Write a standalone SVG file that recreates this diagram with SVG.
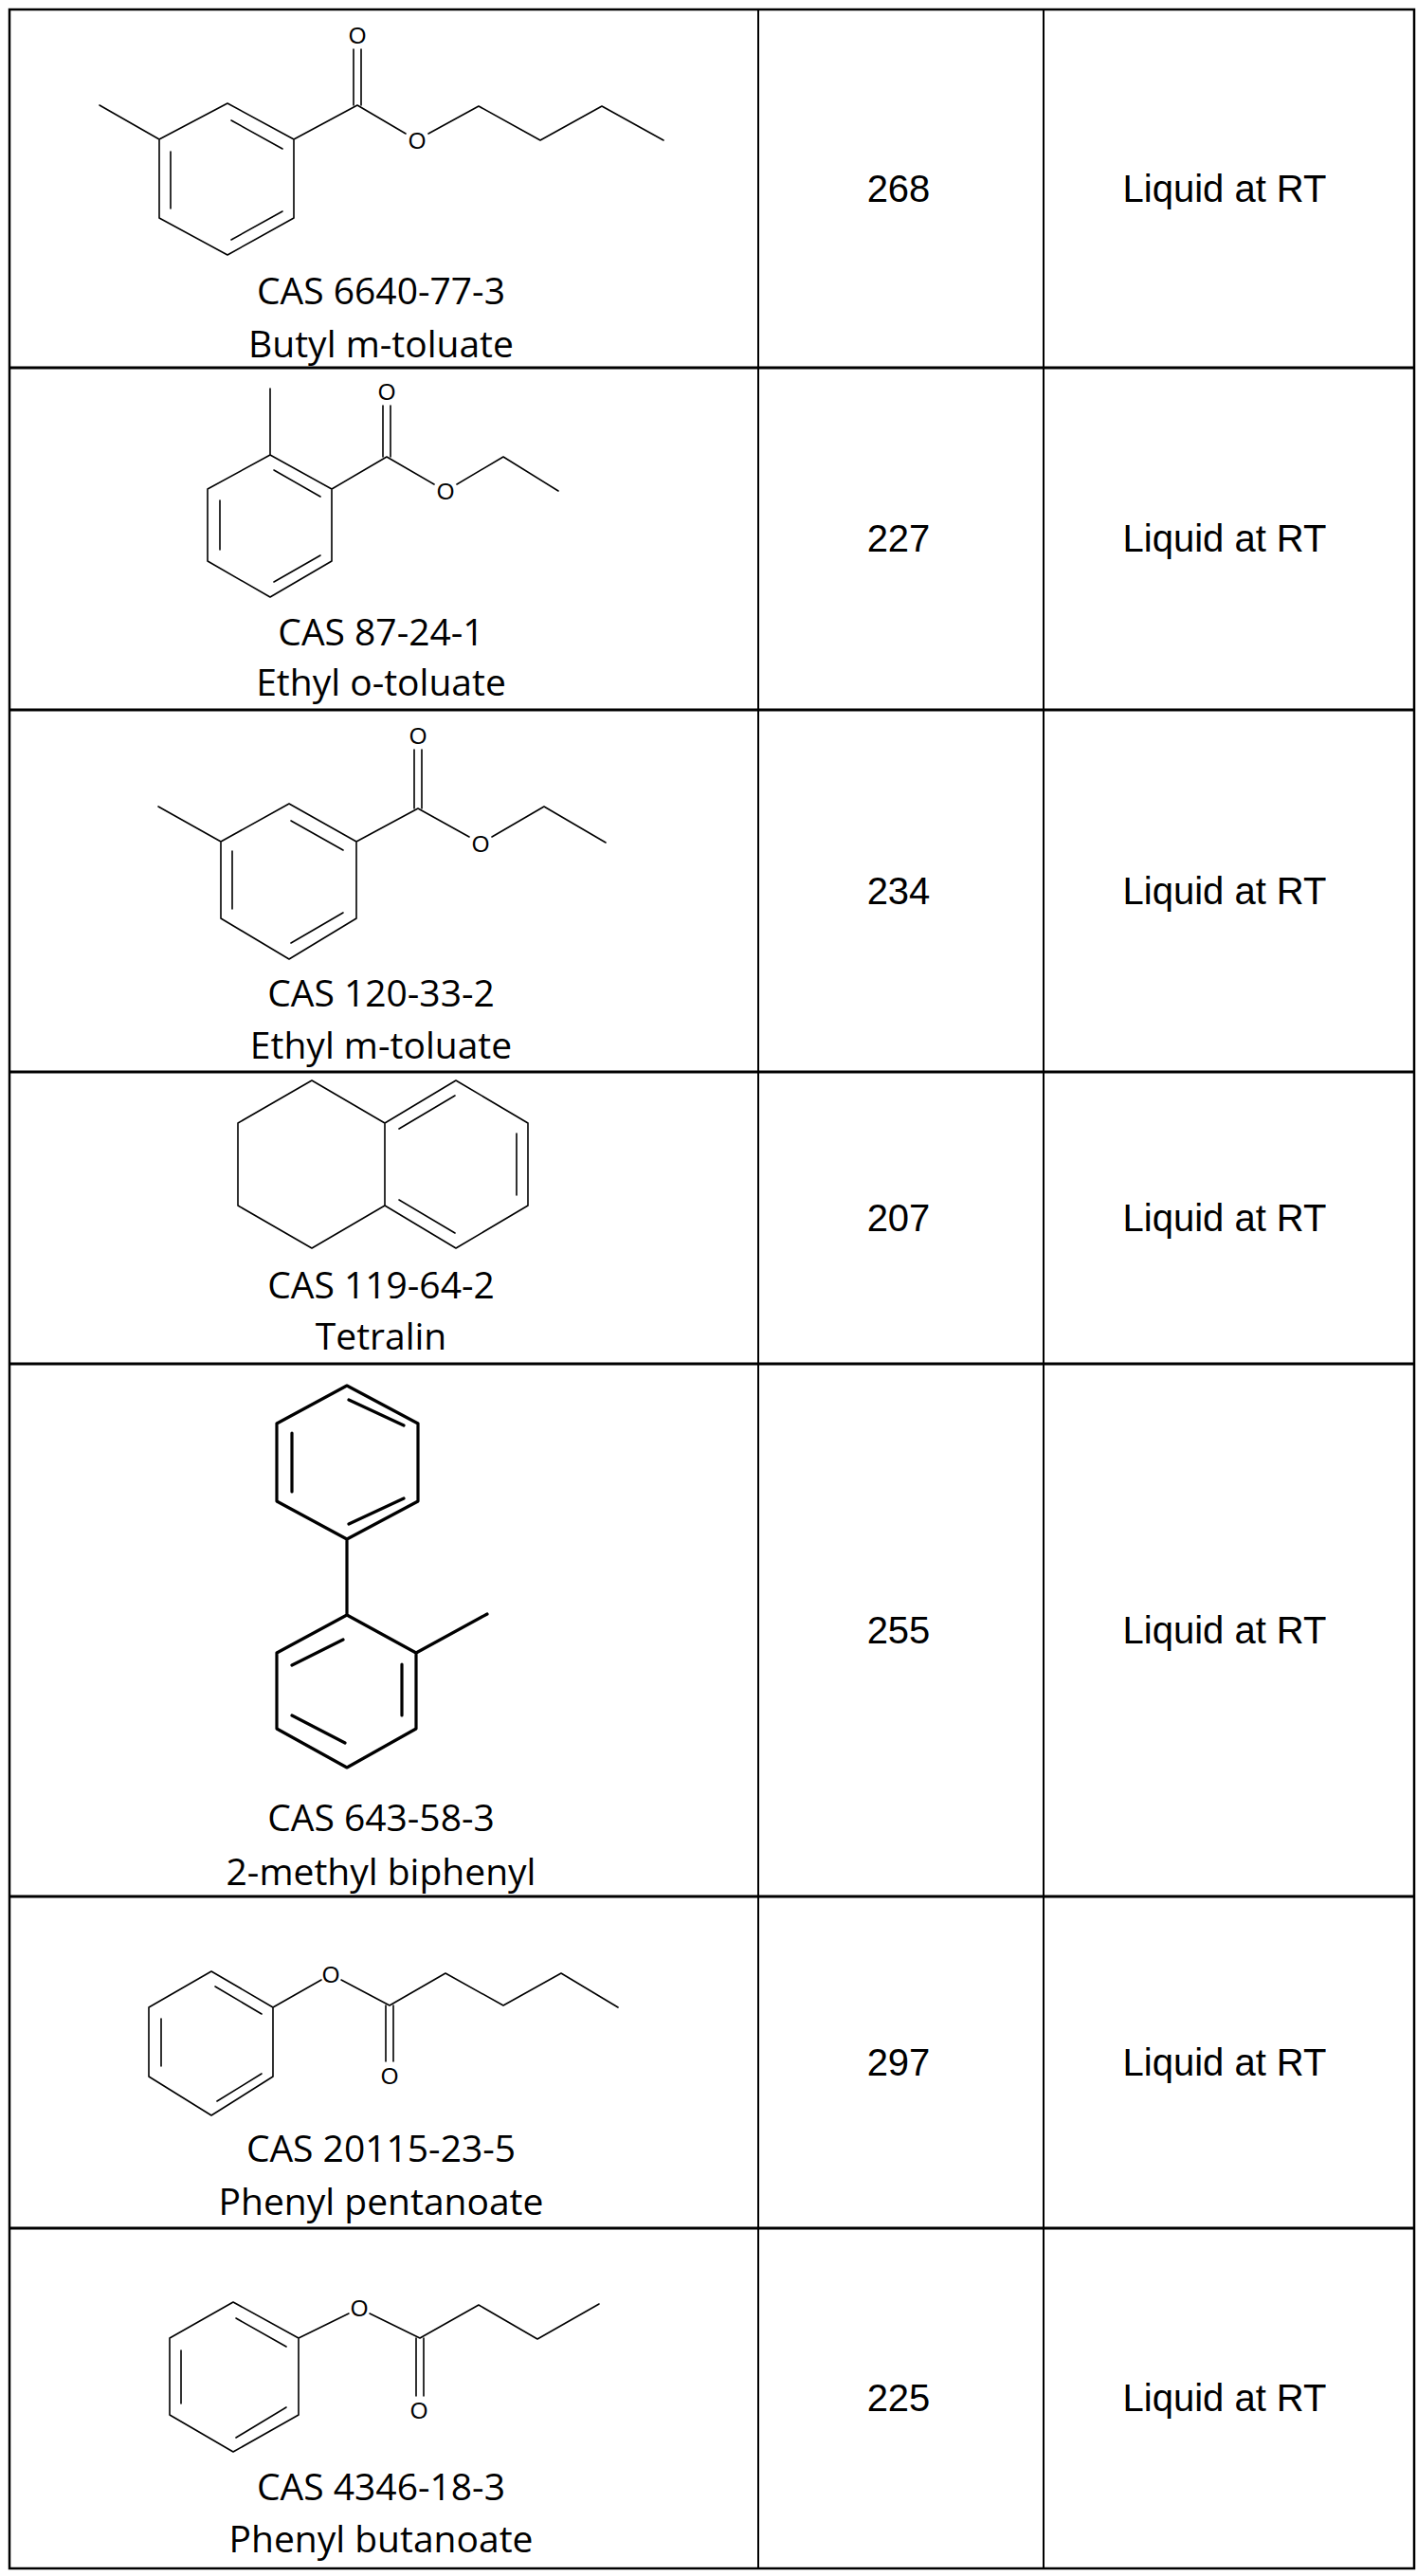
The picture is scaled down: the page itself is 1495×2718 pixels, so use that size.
<svg xmlns="http://www.w3.org/2000/svg" width="1495" height="2718" viewBox="0 0 1495 2718">
<style>
.grid{stroke:#000;fill:none}
.b{stroke:#000;stroke-width:1.6;fill:none;stroke-linecap:round;stroke-linejoin:round}
.bb{stroke:#000;stroke-width:3.2;fill:none;stroke-linecap:round;stroke-linejoin:round}
.cap{font-family:"Open Sans","Noto Sans",sans-serif;font-size:39px;text-anchor:middle;fill:#000}
.num{font-family:"Liberation Sans",Arial,sans-serif;font-size:40px;text-anchor:middle;fill:#000}
.at{font-family:"Liberation Sans",Arial,sans-serif;font-size:24px;text-anchor:middle;fill:#000}
</style>
<rect width="1495" height="2718" fill="#fff"/>
<g id="table" class="grid">
<rect x="10" y="10" width="1482" height="2700" stroke-width="2.5"/>
<line x1="800" y1="10" x2="800" y2="2710" stroke-width="2"/>
<line x1="1101" y1="10" x2="1101" y2="2710" stroke-width="2"/>
<line x1="10" y1="388" x2="1492" y2="388" stroke-width="3"/>
<line x1="10" y1="749" x2="1492" y2="749" stroke-width="3"/>
<line x1="10" y1="1131" x2="1492" y2="1131" stroke-width="3"/>
<line x1="10" y1="1439" x2="1492" y2="1439" stroke-width="3"/>
<line x1="10" y1="2001" x2="1492" y2="2001" stroke-width="3"/>
<line x1="10" y1="2351" x2="1492" y2="2351" stroke-width="3"/>
</g>

<g id="row1">
<path class="b" d="M168,147 L240,109 L310,147 L310,230 L240,269 L168,230 Z M105,111 L168,147 M310,147 L377,111 L428,141 M452,141 L505,112 L570,148 L635,112 L700,148"/>
<path class="b" d="M244,127 L298,157 M180,160 L180,220 M244,253 L298,223"/>
<path class="b" d="M373,111 L373,52 M381,111 L381,52"/>
<text class="at" x="377" y="46">O</text>
<text class="at" x="440" y="157">O</text>
<text class="cap" x="402" y="321">CAS 6640-77-3</text>
<text class="cap" x="402" y="377">Butyl m-toluate</text>
<text class="num" x="948" y="213">268</text>
<text class="num" x="1292" y="213">Liquid at RT</text>
</g>

<g id="row2">
<path class="b" d="M285,480 L350,516 L350,592 L285,630 L219,592 L219,516 Z M285,410 L285,480 M350,516 L408,482 L458,511 M482,511 L531,482 L589,518"/>
<path class="b" d="M289,496 L338,524 M232,528 L232,580 M289,614 L338,586"/>
<path class="b" d="M404,482 L404,428 M412,482 L412,428"/>
<text class="at" x="408" y="422">O</text>
<text class="at" x="470" y="527">O</text>
<text class="cap" x="402" y="681">CAS 87-24-1</text>
<text class="cap" x="402" y="734">Ethyl o-toluate</text>
<text class="num" x="948" y="582">227</text>
<text class="num" x="1292" y="582">Liquid at RT</text>
</g>

<g id="row3">
<path class="b" d="M233,888 L305,848 L376,888 L376,969 L305,1012 L233,969 Z M167,851 L233,888 M376,888 L441,853 L495,883 M519,883 L574,851 L639,889"/>
<path class="b" d="M307,866 L362,897 M245,898 L245,959 M307,995 L362,963"/>
<path class="b" d="M437,853 L437,791 M445,853 L445,791"/>
<text class="at" x="441" y="785">O</text>
<text class="at" x="507" y="899">O</text>
<text class="cap" x="402" y="1062">CAS 120-33-2</text>
<text class="cap" x="402" y="1117">Ethyl m-toluate</text>
<text class="num" x="948" y="954">234</text>
<text class="num" x="1292" y="954">Liquid at RT</text>
</g>

<g id="row4">
<path class="b" d="M329,1140 L406,1185 L406,1272 L329,1317 L251,1272 L251,1185 Z M406,1185 L481,1140 L557,1185 L557,1272 L481,1317 L406,1272"/>
<path class="b" d="M421,1191 L480,1156 M545,1196 L545,1261 M421,1266 L480,1301"/>
<text class="cap" x="402" y="1370">CAS 119-64-2</text>
<text class="cap" x="402" y="1424">Tetralin</text>
<text class="num" x="948" y="1299">207</text>
<text class="num" x="1292" y="1299">Liquid at RT</text>
</g>

<g id="row5">
<path class="bb" d="M366,1462 L441,1502 L441,1584 L366,1624 L292,1584 L292,1502 Z M366,1624 L366,1704 M366,1704 L439,1744 L439,1824 L366,1865 L292,1824 L292,1744 Z M439,1744 L514,1703"/>
<path class="bb" d="M368,1477 L426,1504 M308,1512 L308,1574 M368,1608 L426,1581 M308,1757 L362,1730 M424,1756 L424,1810 M308,1810 L364,1839"/>
<text class="cap" x="402" y="1932">CAS 643-58-3</text>
<text class="cap" x="402" y="1989">2-methyl biphenyl</text>
<text class="num" x="948" y="1734">255</text>
<text class="num" x="1292" y="1734">Liquid at RT</text>
</g>

<g id="row6">
<path class="b" d="M223,2080 L288,2118 L288,2191 L223,2232 L157,2191 L157,2118 Z M288,2118 L339,2089 M360,2089 L411,2116 L470,2082 L531,2116 L592,2082 L652,2118"/>
<path class="b" d="M227,2096 L276,2125 M170,2130 L170,2180 M229,2217 L276,2188"/>
<path class="b" d="M407,2116 L407,2175 M415,2116 L415,2175"/>
<text class="at" x="349" y="2092">O</text>
<text class="at" x="411" y="2199">O</text>
<text class="cap" x="402" y="2281">CAS 20115-23-5</text>
<text class="cap" x="402" y="2337">Phenyl pentanoate</text>
<text class="num" x="948" y="2190">297</text>
<text class="num" x="1292" y="2190">Liquid at RT</text>
</g>

<g id="row7">
<path class="b" d="M246,2429 L315,2467 L315,2548 L246,2587 L179,2548 L179,2467 Z M315,2467 L368,2441 M390,2441 L443,2467 L505,2432 L567,2468 L632,2431"/>
<path class="b" d="M249,2446 L302,2476 M191,2480 L191,2536 M249,2572 L302,2540"/>
<path class="b" d="M439,2467 L439,2528 M447,2467 L447,2528"/>
<text class="at" x="379" y="2444">O</text>
<text class="at" x="442" y="2552">O</text>
<text class="cap" x="402" y="2638">CAS 4346-18-3</text>
<text class="cap" x="402" y="2693">Phenyl butanoate</text>
<text class="num" x="948" y="2544">225</text>
<text class="num" x="1292" y="2544">Liquid at RT</text>
</g>
</svg>
